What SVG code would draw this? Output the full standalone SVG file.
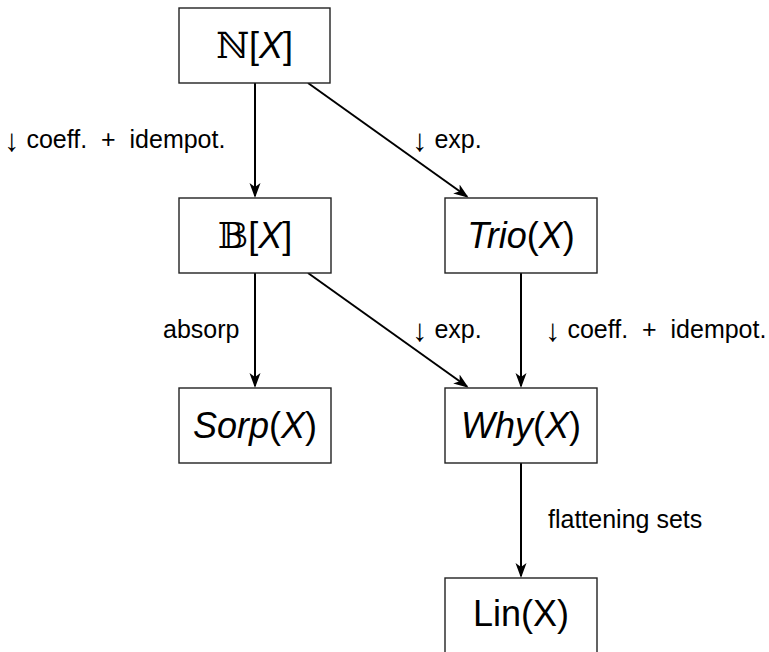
<svg xmlns="http://www.w3.org/2000/svg" width="769" height="652" viewBox="0 0 769 652">
<defs>
<marker id="arr" markerUnits="userSpaceOnUse" markerWidth="16" markerHeight="14" refX="13" refY="6" orient="auto">
<path d="M0,0.5 L15,6 L0,11.5 L4,6 Z" fill="#000"/>
</marker>
<style>
.box{fill:#fff;stroke:#222;stroke-width:1.4}
.nt{font-family:"Liberation Sans",Arial,sans-serif;font-size:36px;fill:#000;text-anchor:middle}
.it{font-style:italic}
.bb{font-family:"DejaVu Serif","DejaVu Sans",serif;font-style:normal}
.lb{font-family:"Liberation Sans",Arial,sans-serif;font-size:25px;fill:#000}
.ar{font-size:31px}
.edge{stroke:#000;stroke-width:2;fill:none;marker-end:url(#arr)}
</style>
</defs>
<rect width="769" height="652" fill="#fff"/>
<g id="connectors">
<line class="edge" x1="255" y1="83" x2="255" y2="196"/>
<line class="edge" x1="308" y1="83" x2="467" y2="196.5"/>
<line class="edge" x1="255" y1="273" x2="255" y2="386"/>
<line class="edge" x1="308" y1="273" x2="467" y2="386.5"/>
<line class="edge" x1="521" y1="273" x2="521" y2="386"/>
<line class="edge" x1="521" y1="463" x2="521" y2="576"/>
</g>
<g id="labels">
<text class="lb" x="4" y="148" xml:space="preserve"><tspan class="ar" dy="3">↓</tspan><tspan dy="-3"> coeff.  +  idempot.</tspan></text>
<text class="lb" x="412" y="148" xml:space="preserve"><tspan class="ar" dy="3">↓</tspan><tspan dy="-3"> exp.</tspan></text>
<text class="lb" x="163" y="338">absorp</text>
<text class="lb" x="412" y="338" xml:space="preserve"><tspan class="ar" dy="3">↓</tspan><tspan dy="-3"> exp.</tspan></text>
<text class="lb" x="545" y="338" xml:space="preserve"><tspan class="ar" dy="3">↓</tspan><tspan dy="-3"> coeff.  +  idempot.</tspan></text>
<text class="lb" x="548" y="528">flattening sets</text>
</g>
<g id="node-NX">
<rect class="box" x="179" y="8" width="151" height="75"/>
<text class="nt" x="254.5" y="58"><tspan class="bb">ℕ</tspan>[<tspan class="it">X</tspan>]</text>
</g>
<g id="node-BX">
<rect class="box" x="179" y="198" width="152" height="75"/>
<text class="nt" x="255" y="248"><tspan class="bb">𝔹</tspan>[<tspan class="it">X</tspan>]</text>
</g>
<g id="node-Trio">
<rect class="box" x="445" y="198" width="152" height="75"/>
<text class="nt" x="521" y="248"><tspan class="it">Trio</tspan>(<tspan class="it">X</tspan>)</text>
</g>
<g id="node-Sorp">
<rect class="box" x="179" y="388" width="152" height="75"/>
<text class="nt" x="255" y="438"><tspan class="it">Sorp</tspan>(<tspan class="it">X</tspan>)</text>
</g>
<g id="node-Why">
<rect class="box" x="445" y="388" width="152" height="75"/>
<text class="nt" x="521" y="438"><tspan class="it">Why</tspan>(<tspan class="it">X</tspan>)</text>
</g>
<g id="node-Lin">
<rect class="box" x="445" y="578" width="152" height="75"/>
<text class="nt" x="521" y="626">Lin(X)</text>
</g>
</svg>
